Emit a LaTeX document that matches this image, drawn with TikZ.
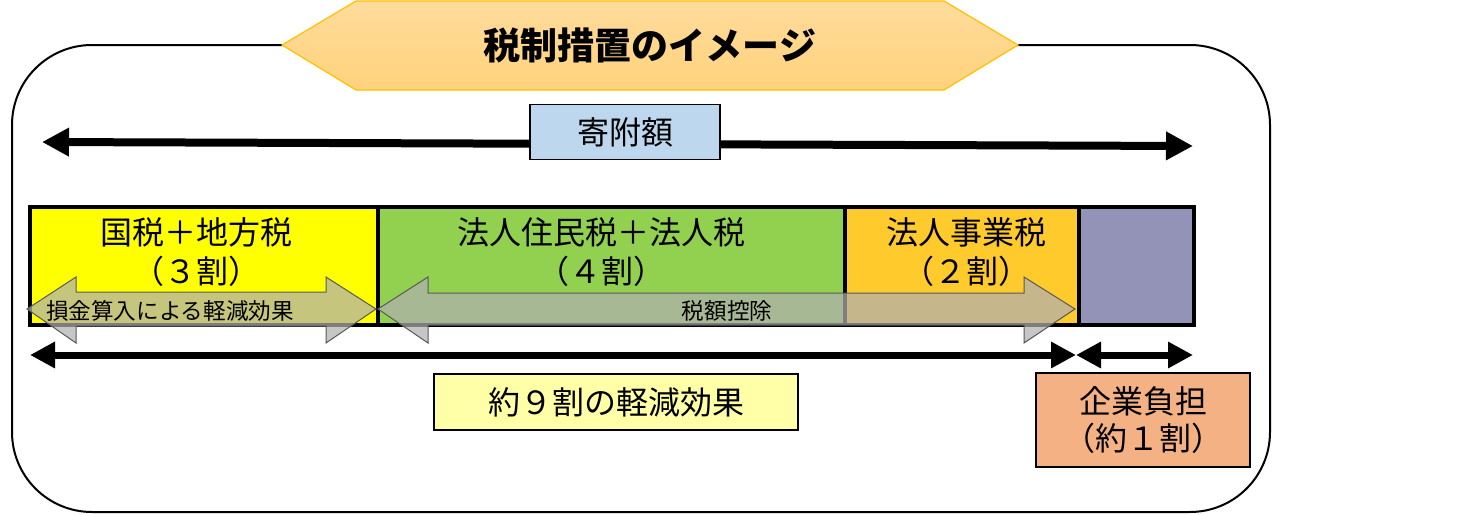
\documentclass[tikz,border=0pt]{standalone}
\usepackage{fontspec}
\setmainfont{Noto Sans CJK JP}
\usetikzlibrary{arrows.meta}

\definecolor{hexfilltop}{HTML}{FFDC9C}
\definecolor{hexfillbot}{HTML}{FFD27C}
\definecolor{hexline}{HTML}{FFC000}
\definecolor{kifublue}{HTML}{BDD7EE}
\definecolor{segyellow}{HTML}{FFFF00}
\definecolor{seggreen}{HTML}{92D050}
\definecolor{segorange}{HTML}{FFCA2C}
\definecolor{segpurple}{HTML}{9393B7}
\definecolor{lightyellow}{HTML}{FFFFA8}
\definecolor{salmon}{HTML}{F4B183}
\definecolor{arrowgray}{HTML}{B0B0B0}
\definecolor{arrowline}{HTML}{595959}

\begin{document}
\begin{tikzpicture}[x=0.5pt,y=-0.5pt,
	labelbox/.style={draw=black, line width=0.9pt, inner sep=0pt, align=center, font=\fontsize{16}{18.5}\selectfont},
	segtext/.style={inner sep=0pt, align=center, font=\fontsize{16}{19.5}\selectfont},
	smalltext/.style={inner sep=0pt, font=\fontsize{11.3}{13}\selectfont},
	blockarrow/.style={fill=arrowgray, fill opacity=0.72, draw=arrowline, line width=0.5pt},
	bigarrow/.style={line width=4pt, {Triangle[length=13.5pt,width=13.5pt]}-{Triangle[length=13.5pt,width=13.5pt]}},
	midarrow/.style={line width=3.5pt, {Triangle[length=12.5pt,width=12.5pt]}-{Triangle[length=12.5pt,width=12.5pt]}}]

	\useasboundingbox (0,0) rectangle (1467,514);

	% outer frame and title
	\draw[line width=1pt, rounded corners=40pt] (12,45) rectangle (1270,512);
	\draw[hexline, line width=0.6pt, top color=hexfilltop, bottom color=hexfillbot]
		(282,45) -- (356,1) -- (944,1) -- (1018,45) -- (944,90) -- (356,90) -- cycle;
	\node[inner sep=0pt, font=\fontsize{18.5}{20}\selectfont\bfseries] (title) at (650,45) {税制措置のイメージ};

	% donation amount
	\coordinate (kifuL) at (42,142);
	\coordinate (kifuR) at (1193,146);
	\draw[bigarrow] (kifuL) -- (kifuR);
	\node[labelbox, fill=kifublue, minimum width=95pt, minimum height=27.5pt] (kifu) at (625,132) {寄附額};

	% tax bar
	\fill[segyellow] (30,207) rectangle (378,325);
	\fill[seggreen] (378,207) rectangle (845,325);
	\fill[segorange] (845,207) rectangle (1079,325);
	\fill[segpurple] (1079,207) rectangle (1194,325);
	\draw[line width=2pt] (30,207) rectangle (1194,325);
	\foreach \x in {378,845,1079} {
		\draw[line width=2pt] (\x,207) -- (\x,325);
	}

	\node[segtext] (national) at (196,252) {国税＋地方税\\（３割）};
	\node[segtext] (resident) at (601,252) {法人住民税＋法人税\\（４割）};
	\node[segtext] (business) at (966,252) {法人事業税\\（２割）};

	% block arrows
	\draw[blockarrow] (27,309) -- (76,277) -- (76,292) -- (326,292) -- (326,277) -- (376,309)
		-- (326,343) -- (326,326) -- (76,326) -- (76,343) -- cycle;
	\node[smalltext] (deduct) at (170,311) {損金算入による軽減効果};

	\draw[blockarrow] (378,309) -- (428,277) -- (428,293) -- (1024,293) -- (1024,277) -- (1075,309)
		-- (1024,343) -- (1024,325) -- (428,325) -- (428,343) -- cycle;
	\node[smalltext] (credit) at (727,311) {税額控除};

	% relief and burden
	\coordinate (reliefL) at (30,355);
	\coordinate (reliefR) at (1076,355);
	\coordinate (burdenR) at (1193,355);
	\draw[midarrow] (reliefL) -- (reliefR);
	\draw[midarrow] (reliefR) -- (burdenR);

	\node[labelbox, fill=lightyellow, minimum width=182pt, minimum height=28pt] (relief) at (616,402) {約９割の軽減効果};
	\node[labelbox, fill=salmon, minimum width=107pt, minimum height=47pt] (burden) at (1143,420) {企業負担\\（約１割）};
\end{tikzpicture}
\end{document}
